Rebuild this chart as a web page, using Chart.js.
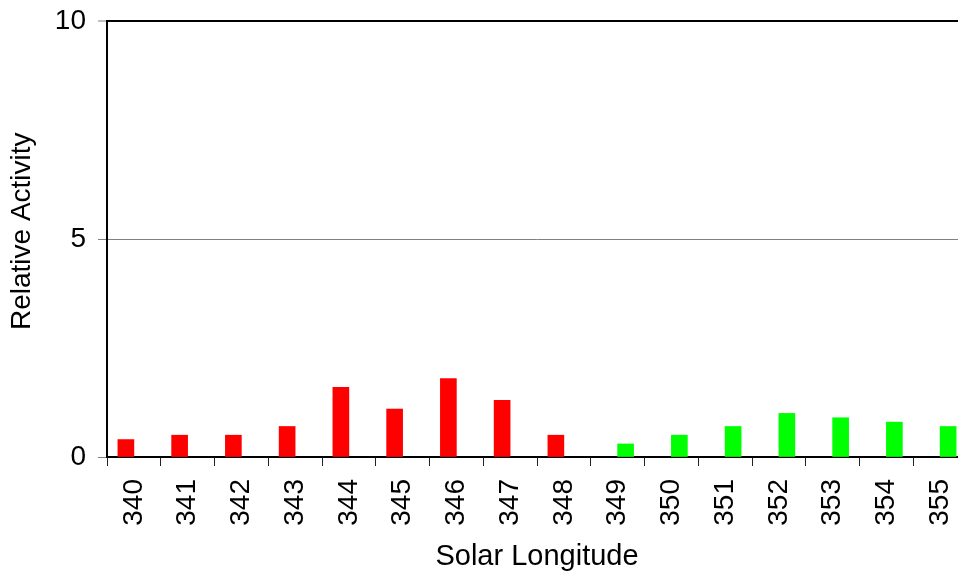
<!DOCTYPE html>
<html>
<head>
<meta charset="utf-8">
<script src="https://cdn.jsdelivr.net/npm/chart.js@4.4.1/dist/chart.umd.min.js"></script>
<style>
  html, body { margin: 0; padding: 0; background: #fff; overflow: hidden; }
  canvas { display: block; }
</style>
</head>
<body>
<canvas id="c" width="967" height="574" style="width:967px;height:574px"></canvas>
<script>
const categories = ['340','341','342','343','344','345','346','347','348','349','350','351','352','353','354','355'];
const redValues   = [0.4, 0.5, 0.5, 0.7, 1.6, 1.1, 1.8, 1.3, 0.5, null, null, null, null, null, null, null];
const greenValues = [null, null, null, null, null, null, null, null, null, 0.3, 0.5, 0.7, 1.0, 0.9, 0.8, 0.7];
const yTicks = [0, 5, 10];

const FONT = 'Liberation Sans, Arial, sans-serif';

new Chart(document.getElementById('c'), {
  type: 'bar',
  data: {
    labels: categories,
    datasets: [
      { data: redValues, backgroundColor: '#ff0000', borderWidth: 0, barThickness: 16 },
      { data: greenValues, backgroundColor: '#00ff00', borderWidth: 0, barThickness: 16 }
    ]
  },
  options: {
    responsive: false,
    animation: false,
    devicePixelRatio: 1,
    layout: { padding: { top: 21, left: 0, right: 0, bottom: 0 } },
    plugins: { legend: { display: false }, tooltip: { enabled: false } },
    scales: {
      x: {
        grid: { display: true, drawOnChartArea: false, tickLength: 9, color: '#222', lineWidth: 1, offset: true },
        border: { display: true, color: '#000', width: 2 },
        ticks: {
          color: '#000', font: { family: FONT, size: 28 },
          maxRotation: 90, minRotation: 90, autoSkip: false, padding: 13
        },
        title: { display: true, text: 'Solar Longitude', color: '#000', font: { family: FONT, size: 29 }, padding: 0 },
        afterFit: (s) => { s.height = 117; s.paddingLeft = 0; s.paddingRight = 0; }
      },
      y: {
        min: 0, max: 10,
        afterBuildTicks: (s) => { s.ticks = yTicks.map(v => ({ value: v })); },
        grid: {
          tickLength: 9,
          tickColor: '#808080',
          tickWidth: 1,
          color: (ctx) => ctx.tick && ctx.tick.value === 10 ? '#000' : '#808080',
          lineWidth: (ctx) => ctx.tick && ctx.tick.value === 10 ? 2 : 1
        },
        border: { display: true, color: '#000', width: 2 },
        ticks: { color: '#000', font: { family: FONT, size: 28 }, padding: 12 },
        title: { display: true, text: '  Relative Activity', color: '#000', font: { family: FONT, size: 28 }, padding: { top: 5.5, bottom: 0 } },
        afterFit: (s) => { s.width = 107; s.paddingTop = 0; s.paddingBottom = 0; }
      }
    }
  }
});
</script>
</body>
</html>
